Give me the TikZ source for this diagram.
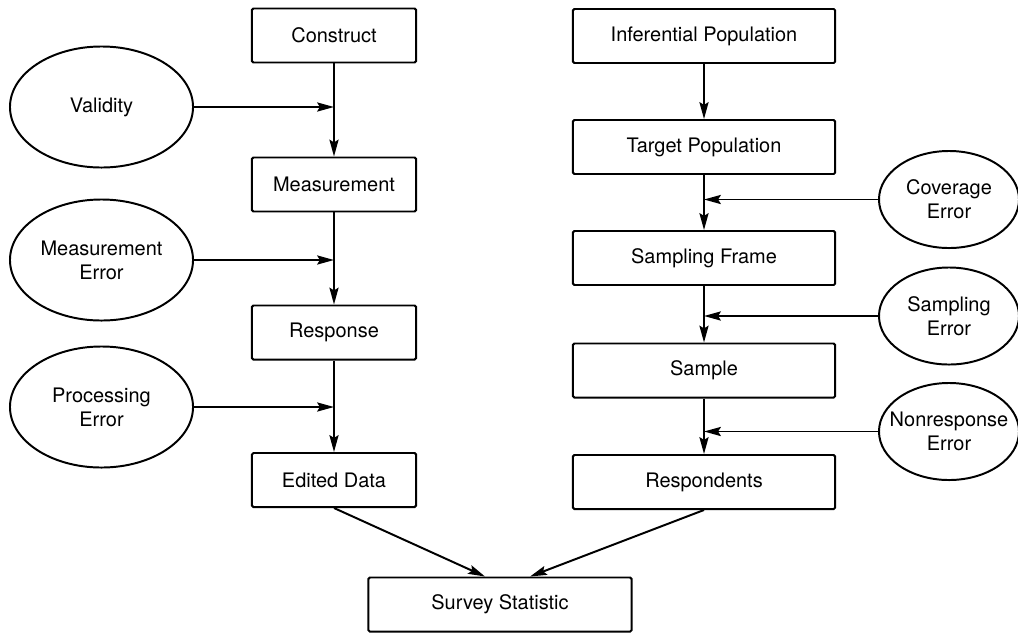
\documentclass[tikz,border=0pt]{standalone}
\usepackage{fontspec}
\setmainfont{TeX Gyre Heros}
\usetikzlibrary{shapes.geometric,arrows.meta}

\begin{document}
\begin{tikzpicture}[x=0.025cm, y=-0.025cm,
	box/.style={draw, line width=1.4pt, rounded corners=1pt, minimum height=1.35cm, inner sep=0pt, font=\fontsize{14.2}{17}\selectfont},
	lbox/.style={box, minimum width=4.1cm},
	rbox/.style={box, minimum width=6.55cm},
	blob/.style={draw, ellipse, line width=1.4pt, inner sep=0pt, align=center, font=\fontsize{14.2}{17}\selectfont},
	arr/.style={-{Stealth[length=12pt, width=6.5pt, inset=2pt]}, line width=1.4pt}]

\useasboundingbox (0,0) rectangle (1018,633);

\node[lbox] (construct) at (334,35.5) {Construct};
\node[lbox] (measure) at (334,184.5) {Measurement};
\node[lbox] (response) at (334,332.5) {Response};
\node[lbox] (edited) at (334,480) {Edited Data};

\node[rbox] (inferential) at (704,36) {Inferential Population};
\node[rbox] (target) at (704,147) {Target Population};
\node[rbox] (frame) at (704,258) {Sampling Frame};
\node[rbox] (sample) at (704,370.5) {Sample};
\node[rbox] (respondents) at (704,482) {Respondents};

\node[box, minimum width=6.575cm] (statistic) at (500,604.5) {Survey Statistic};

\node[blob, minimum width=4.575cm, minimum height=3.025cm] (validity) at (101.5,107) {Validity};
\node[blob, minimum width=4.575cm, minimum height=3.025cm] (merror) at (101.5,260) {Measurement\\Error};
\node[blob, minimum width=4.575cm, minimum height=3.025cm] (perror) at (101.5,407) {Processing\\Error};

\node[blob, minimum width=3.5cm, minimum height=2.425cm] (coverage) at (949,199.5) {Coverage\\Error};
\node[blob, minimum width=3.5cm, minimum height=2.425cm] (serror) at (949,316) {Sampling\\Error};
\node[blob, minimum width=3.5cm, minimum height=2.425cm, inner xsep=-0.25cm] (nonresp) at (949,431.5) {Nonresponse\\Error};

\foreach \a/\b in {construct/measure, measure/response, response/edited, inferential/target, target/frame, frame/sample, sample/respondents}
	{
		\draw[arr] (\a) -- (\b);
	}

\foreach \e/\c in {validity/construct, merror/measure, perror/response, coverage/target, serror/frame, nonresp/sample}
	{
		\draw[arr] (\e) -- (\e -| \c);
	}

\draw[arr] (edited.south) -- ([xshift=-0.375cm]statistic.north);
\draw[arr] (respondents.south) -- ([xshift=0.75cm]statistic.north);

\end{tikzpicture}
\end{document}
